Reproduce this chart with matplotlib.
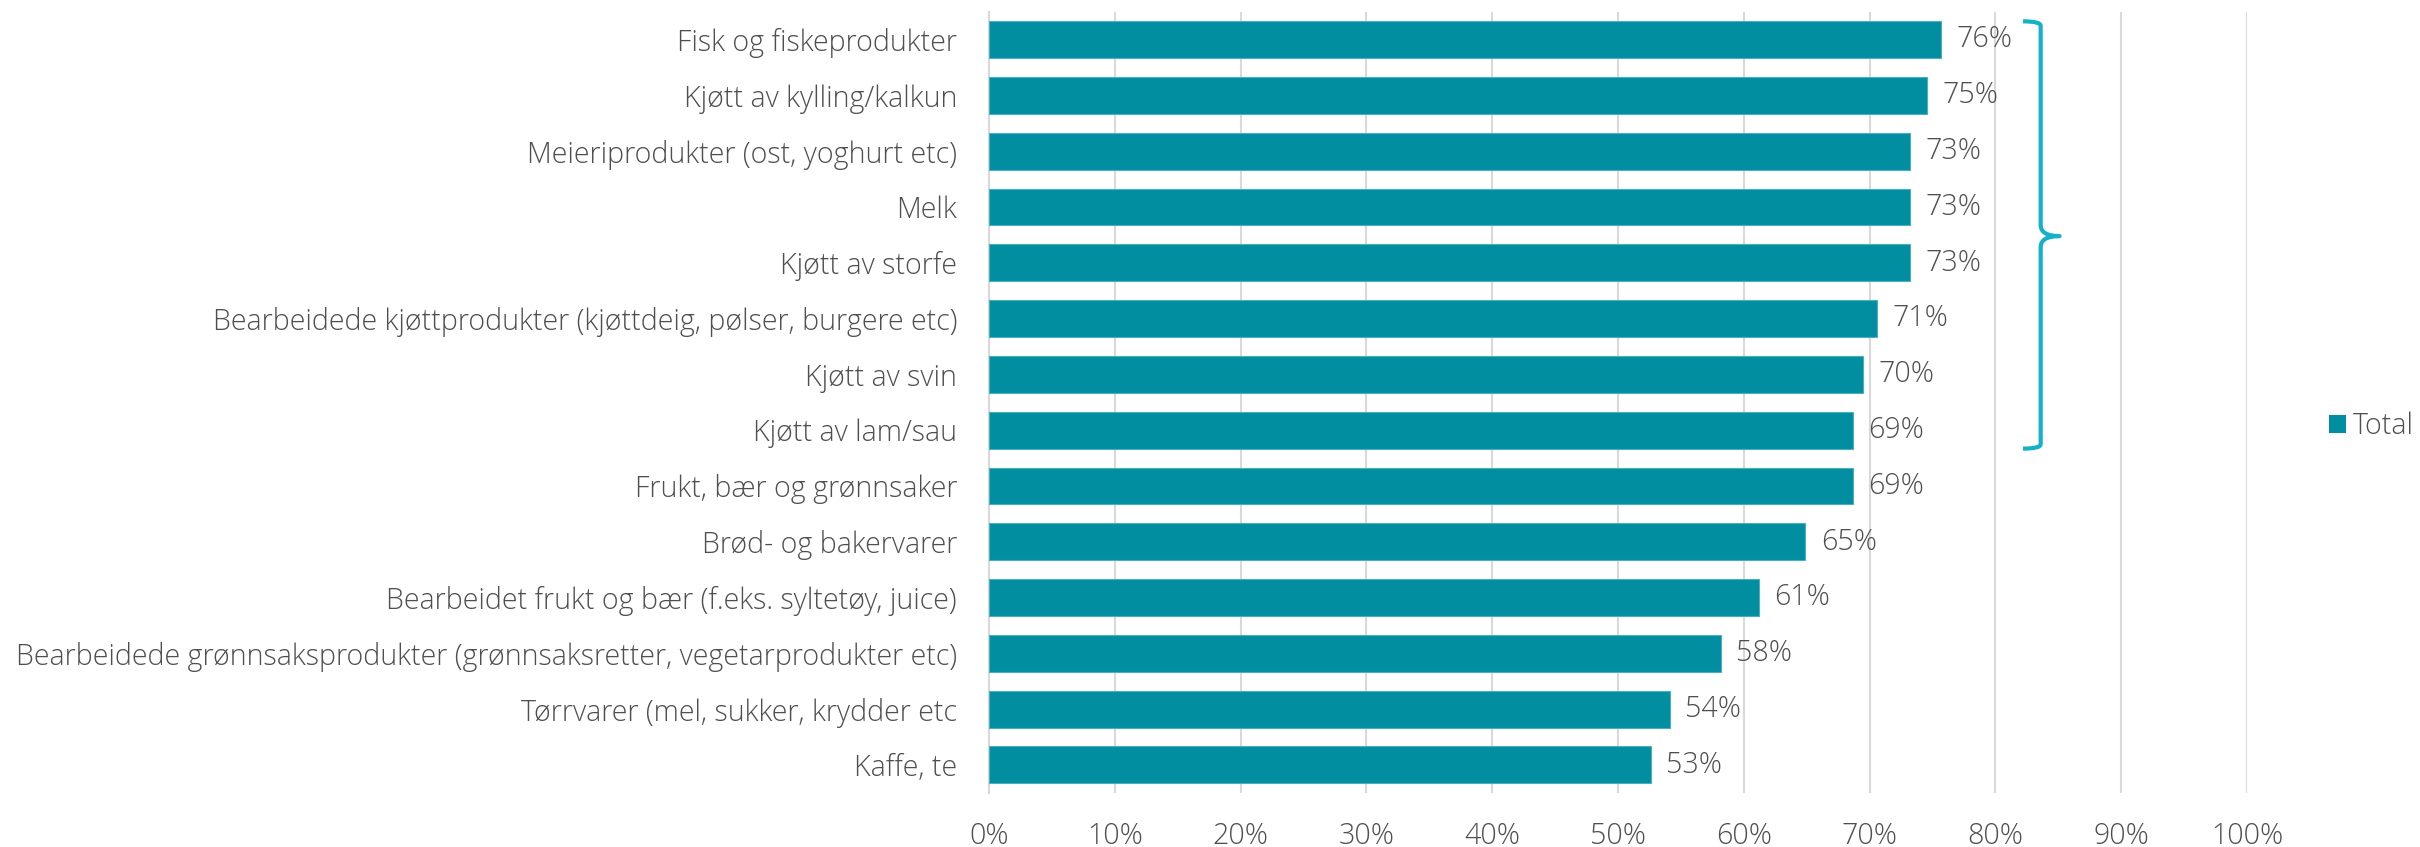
"""Horizontal bar chart: share per food category (Total)."""

import matplotlib

matplotlib.use("Agg")

import matplotlib.pyplot as plt
import numpy as np
from matplotlib.patches import Rectangle
from matplotlib.path import Path
from matplotlib.patches import PathPatch


CATEGORIES = [
    "Fisk og fiskeprodukter",
    "Kjøtt av kylling/kalkun",
    "Meieriprodukter (ost, yoghurt etc)",
    "Melk",
    "Kjøtt av storfe",
    "Bearbeidede kjøttprodukter (kjøttdeig, pølser, burgere etc)",
    "Kjøtt av svin",
    "Kjøtt av lam/sau",
    "Frukt, bær og grønnsaker",
    "Brød- og bakervarer",
    "Bearbeidet frukt og bær (f.eks. syltetøy, juice)",
    "Bearbeidede grønnsaksprodukter (grønnsaksretter, vegetarprodukter etc)",
    "Tørrvarer (mel, sukker, krydder etc",
    "Kaffe, te",
]
VALUES = [75.7, 74.6, 73.2, 73.2, 73.2, 70.6, 69.5, 68.7, 68.7, 64.9, 61.2, 58.2, 54.1, 52.6]
TICKS = [0, 10, 20, 30, 40, 50, 60, 70, 80, 90, 100]
SERIES_NAME = "Total"
# bracket groups the first eight categories
BRACKET_FIRST, BRACKET_LAST = 0, 7

BAR_COLOR = "#028EA1"
BRACKET_COLOR = "#14B1CB"
TEXT_COLOR = "#4F4F4F"
GRID_COLOR = "#D9D9D9"
FONT_SIZE = 20.6

plt.rcParams["font.family"] = ["Open Sans", "DejaVu Sans"]
plt.rcParams["font.weight"] = "light"


def main() -> None:
    fig = plt.figure(figsize=(24.2, 8.47), dpi=100)
    ax = fig.add_axes([0.4087, 0.064, 0.5198, 0.922])

    y = np.arange(len(CATEGORIES))
    bar_h = 0.66
    ax.barh(y, VALUES, height=bar_h, color=BAR_COLOR, edgecolor="#4BAFBE",
            linewidth=0.8, zorder=3)

    for yi, v in zip(y, VALUES):
        ax.annotate(f"{v:.0f}%", (v, yi), xytext=(11, 0), textcoords="offset points",
                    va="center", ha="left", fontsize=FONT_SIZE, color=TEXT_COLOR)

    ax.set_xlim(0, 100)
    ax.set_ylim(len(CATEGORIES) - 0.5, -0.5)
    ax.set_xticks(TICKS)
    ax.set_xticklabels([f"{t}%" for t in TICKS])
    ax.set_yticks(y)
    ax.set_yticklabels(CATEGORIES)
    ax.tick_params(axis="x", length=0, pad=21, labelsize=FONT_SIZE, colors=TEXT_COLOR)
    ax.tick_params(axis="y", length=0, pad=23, labelsize=FONT_SIZE, colors=TEXT_COLOR)
    ax.xaxis.grid(True, color=GRID_COLOR, linewidth=1.5, zorder=0)
    ax.set_axisbelow(True)
    for side in ["top", "right", "bottom"]:
        ax.spines[side].set_visible(False)
    ax.spines["left"].set_color(GRID_COLOR)
    ax.spines["left"].set_linewidth(1.5)

    # curly bracket to the right of the top group
    top = BRACKET_FIRST - bar_h / 2
    bottom = BRACKET_LAST + bar_h / 2
    mid = (BRACKET_FIRST + BRACKET_LAST + 1) / 2 - 0.5 + 0.02
    xl, xv, xr = 82.2, 83.6, 85.1
    r = 0.08
    verts = [
        (xl, top), (xv, top), (xv, top + r),
        (xv, mid - 0.2), (xv, mid), (xr, mid),
        (xv, mid), (xv, mid + 0.2),
        (xv, bottom - r), (xv, bottom), (xl, bottom),
    ]
    codes = [
        Path.MOVETO, Path.CURVE3, Path.CURVE3,
        Path.LINETO, Path.CURVE3, Path.CURVE3,
        Path.CURVE3, Path.CURVE3,
        Path.LINETO, Path.CURVE3, Path.CURVE3,
    ]
    ax.add_patch(PathPatch(Path(verts, codes), facecolor="none",
                           edgecolor=BRACKET_COLOR, linewidth=3,
                           capstyle="butt", joinstyle="round", zorder=4, clip_on=False))

    # legend
    handle = Rectangle((0, 0), 1, 1, facecolor=BAR_COLOR, edgecolor="none")
    fig.legend([handle], [SERIES_NAME], loc="center left",
               bbox_to_anchor=(0.9622, 0.497), frameon=False, fontsize=FONT_SIZE,
               handlelength=0.6, handleheight=0.6, handletextpad=0.25,
               borderaxespad=0, borderpad=0, labelcolor=TEXT_COLOR)

    fig.savefig("out.png", dpi=100)
    plt.close(fig)


if __name__ == "__main__":
    main()
